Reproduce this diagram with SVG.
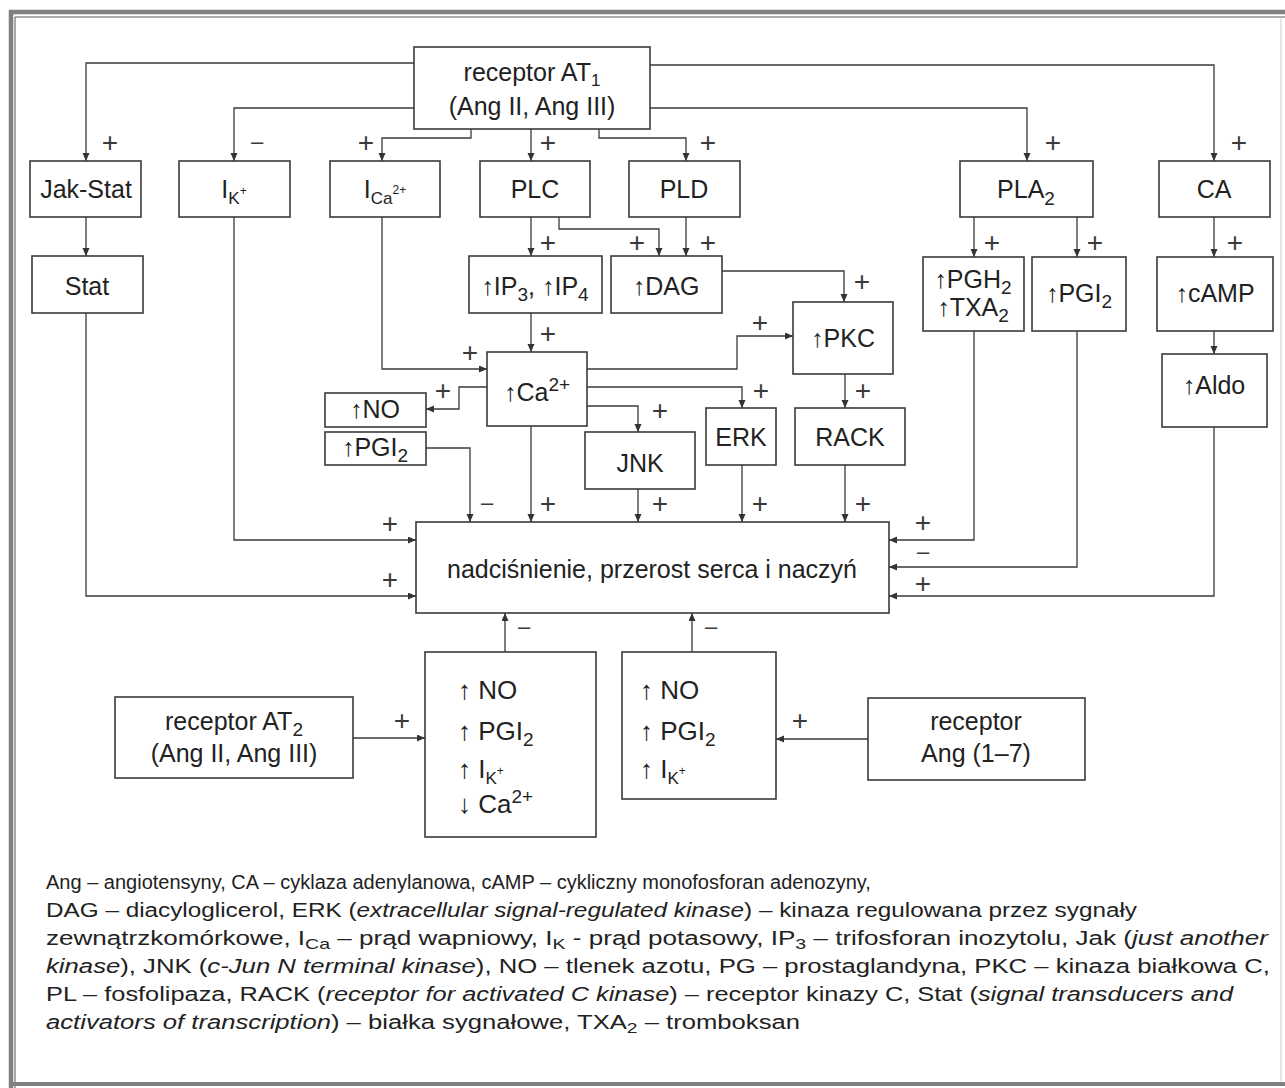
<svg xmlns="http://www.w3.org/2000/svg" width="1285" height="1088" viewBox="0 0 1285 1088">
<defs>
<marker id="ah" markerUnits="userSpaceOnUse" markerWidth="10" markerHeight="8" refX="8" refY="3.5" orient="auto">
<path d="M0,0 L8,3.5 L0,7 z" fill="#333"/>
</marker>
<style>
.bx{fill:#fff;stroke:#3a3a3a;stroke-width:1.6}
.t{font-family:"Liberation Sans",Arial,sans-serif;font-size:25px;fill:#222;text-anchor:middle}
.tl{font-family:"Liberation Sans",Arial,sans-serif;font-size:26px;fill:#222}
.s{font-family:"Liberation Sans",Arial,sans-serif;font-size:28px;fill:#3a3a3a;text-anchor:middle}
.m{font-family:"Liberation Sans",Arial,sans-serif;font-size:22px;fill:#3a3a3a;text-anchor:middle}
.lg{font-family:"Liberation Sans",Arial,sans-serif;font-size:20px;fill:#222}
.c path{fill:none;stroke:#3a3a3a;stroke-width:1.3;marker-end:url(#ah)}
</style>
</defs>
<rect width="1285" height="1088" fill="#fff"/>
<g id="frame" fill="none">
<path d="M11,1088 V12 H1285" stroke="#808080" stroke-width="4.5"/>
<path d="M15,1088 V17 H1285" stroke="#555" stroke-width="1"/>
<path d="M9,1084 H1285" stroke="#808080" stroke-width="4"/>
<path d="M1281,17 V1081" stroke="#ccc" stroke-width="1"/>
</g>

<g class="c" id="connectors">
<path d="M414,63 H86 V161"/>
<path d="M414,108 H234 V161"/>
<path d="M471,129 V138 H382 V161"/>
<path d="M531,129 V161"/>
<path d="M599,129 V138 H686 V161"/>
<path d="M650,108 H1027 V161"/>
<path d="M650,65 H1214 V161"/>
<path d="M86,217 V256"/>
<path d="M531,217 V256"/>
<path d="M559,217 V229 H659 V256"/>
<path d="M686,217 V256"/>
<path d="M974,217 V257"/>
<path d="M1077,217 V257"/>
<path d="M1214,217 V257"/>
<path d="M1214,331 V354"/>
<path d="M722,271 H844 V302"/>
<path d="M531,313 V352"/>
<path d="M382,217 V369 H487"/>
<path d="M587,369 H737 V336 H793"/>
<path d="M487,387 H459 V409 H426"/>
<path d="M587,387 H742 V408"/>
<path d="M587,406 H638 V432"/>
<path d="M845,374 V408"/>
<path d="M426,448 H470 V522"/>
<path d="M531,426 V522"/>
<path d="M638,489 V522"/>
<path d="M742,465 V522"/>
<path d="M845,465 V522"/>
<path d="M234,217 V540 H416"/>
<path d="M86,313 V596 H416"/>
<path d="M974,331 V540 H889"/>
<path d="M1077,331 V567 H889"/>
<path d="M1214,427 V596 H889"/>
<path d="M505,652 V613"/>
<path d="M692,652 V613"/>
<path d="M353,738 H425"/>
<path d="M868,739 H776"/>
</g>

<g id="signs">
<text class="s" x="110" y="152">+</text>
<text class="m" x="257" y="149">–</text>
<text class="s" x="366" y="152">+</text>
<text class="s" x="548" y="152">+</text>
<text class="s" x="708" y="152">+</text>
<text class="s" x="1053" y="152">+</text>
<text class="s" x="1239" y="152">+</text>
<text class="s" x="548" y="252">+</text>
<text class="s" x="637" y="252">+</text>
<text class="s" x="708" y="252">+</text>
<text class="s" x="992" y="252">+</text>
<text class="s" x="1095" y="252">+</text>
<text class="s" x="1235" y="252">+</text>
<text class="s" x="862" y="291">+</text>
<text class="s" x="760" y="332">+</text>
<text class="s" x="548" y="343">+</text>
<text class="s" x="470" y="362">+</text>
<text class="s" x="443" y="400">+</text>
<text class="s" x="761" y="400">+</text>
<text class="s" x="660" y="420">+</text>
<text class="s" x="863" y="400">+</text>
<text class="m" x="487" y="510">–</text>
<text class="s" x="548" y="513">+</text>
<text class="s" x="660" y="513">+</text>
<text class="s" x="760" y="513">+</text>
<text class="s" x="863" y="513">+</text>
<text class="s" x="390" y="533">+</text>
<text class="s" x="390" y="589">+</text>
<text class="s" x="923" y="532">+</text>
<text class="m" x="923" y="559">–</text>
<text class="s" x="923" y="593">+</text>
<text class="m" x="524" y="634">–</text>
<text class="m" x="711" y="634">–</text>
<text class="s" x="402" y="730">+</text>
<text class="s" x="800" y="730">+</text>
</g>

<g id="at1">
<rect class="bx" x="414" y="47" width="236" height="82"/>
<text class="t" x="532" y="81">receptor AT<tspan font-size="17" dy="5">1</tspan></text>
<text class="t" x="532" y="115">(Ang II, Ang III)</text>
</g>
<g id="jakstat">
<rect class="bx" x="30" y="161" width="111" height="56"/>
<text class="t" x="86" y="198">Jak-Stat</text>
</g>
<g id="ik">
<rect class="bx" x="179" y="161" width="111" height="56"/>
<text class="t" x="234" y="198">I<tspan font-size="17" dy="6">K</tspan><tspan font-size="12" dy="-9">+</tspan></text>
</g>
<g id="ica">
<rect class="bx" x="330" y="161" width="110" height="56"/>
<text class="t" x="385" y="198">I<tspan font-size="17" dy="6">Ca</tspan><tspan font-size="12" dy="-10">2+</tspan></text>
</g>
<g id="plc">
<rect class="bx" x="480" y="161" width="110" height="56"/>
<text class="t" x="535" y="198">PLC</text>
</g>
<g id="pld">
<rect class="bx" x="629" y="161" width="111" height="56"/>
<text class="t" x="684" y="198">PLD</text>
</g>
<g id="pla2">
<rect class="bx" x="960" y="161" width="133" height="56"/>
<text class="t" x="1026" y="198">PLA<tspan font-size="19" dy="7">2</tspan></text>
</g>
<g id="ca">
<rect class="bx" x="1159" y="161" width="111" height="56"/>
<text class="t" x="1214" y="198">CA</text>
</g>
<g id="stat">
<rect class="bx" x="32" y="256" width="111" height="57"/>
<text class="t" x="87" y="295">Stat</text>
</g>
<g id="ip3">
<rect class="bx" x="469" y="256" width="133" height="57"/>
<text class="t" x="535" y="295">↑IP<tspan font-size="19" dy="6">3</tspan><tspan dy="-6">, ↑IP</tspan><tspan font-size="19" dy="6">4</tspan></text>
</g>
<g id="dag">
<rect class="bx" x="611" y="256" width="111" height="57"/>
<text class="t" x="666" y="295">↑DAG</text>
</g>
<g id="pgh2">
<rect class="bx" x="923" y="257" width="101" height="74"/>
<text class="t" x="973" y="288">↑PGH<tspan font-size="19" dy="6">2</tspan></text>
<text class="t" x="973" y="316">↑TXA<tspan font-size="19" dy="6">2</tspan></text>
</g>
<g id="pgi2r">
<rect class="bx" x="1032" y="257" width="94" height="74"/>
<text class="t" x="1079" y="302">↑PGI<tspan font-size="19" dy="6">2</tspan></text>
</g>
<g id="camp">
<rect class="bx" x="1157" y="257" width="116" height="74"/>
<text class="t" x="1215" y="302">↑cAMP</text>
</g>
<g id="aldo">
<rect class="bx" x="1162" y="354" width="105" height="73"/>
<text class="t" x="1214" y="394">↑Aldo</text>
</g>
<g id="pkc">
<rect class="bx" x="793" y="302" width="100" height="72"/>
<text class="t" x="843" y="347">↑PKC</text>
</g>
<g id="ca2">
<rect class="bx" x="487" y="352" width="100" height="74"/>
<text class="t" x="537" y="401">↑Ca<tspan font-size="19" dy="-10">2+</tspan></text>
</g>
<g id="no">
<rect class="bx" x="325" y="393" width="101" height="34"/>
<text class="t" x="375" y="418">↑NO</text>
</g>
<g id="pgi2l">
<rect class="bx" x="325" y="432" width="101" height="33"/>
<text class="t" x="375" y="456">↑PGI<tspan font-size="19" dy="6">2</tspan></text>
</g>
<g id="jnk">
<rect class="bx" x="585" y="432" width="110" height="57"/>
<text class="t" x="640" y="472">JNK</text>
</g>
<g id="erk">
<rect class="bx" x="706" y="408" width="70" height="57"/>
<text class="t" x="741" y="446">ERK</text>
</g>
<g id="rack">
<rect class="bx" x="795" y="408" width="110" height="57"/>
<text class="t" x="850" y="446">RACK</text>
</g>
<g id="target">
<rect class="bx" x="416" y="522" width="473" height="91"/>
<text class="t" x="652" y="578">nadciśnienie, przerost serca i naczyń</text>
</g>
<g id="effl">
<rect class="bx" x="425" y="652" width="171" height="185"/>
<text class="tl" x="458" y="699">↑ NO</text>
<text class="tl" x="458" y="740">↑ PGI<tspan font-size="19" dy="6">2</tspan></text>
<text class="tl" x="458" y="778">↑ I<tspan font-size="17" dy="6">K</tspan><tspan font-size="12" dy="-9">+</tspan></text>
<text class="tl" x="458" y="813">↓ Ca<tspan font-size="19" dy="-10">2+</tspan></text>
</g>
<g id="effr">
<rect class="bx" x="622" y="652" width="154" height="147"/>
<text class="tl" x="640" y="699">↑ NO</text>
<text class="tl" x="640" y="740">↑ PGI<tspan font-size="19" dy="6">2</tspan></text>
<text class="tl" x="640" y="778">↑ I<tspan font-size="17" dy="6">K</tspan><tspan font-size="12" dy="-9">+</tspan></text>
</g>
<g id="at2">
<rect class="bx" x="115" y="697" width="238" height="81"/>
<text class="t" x="234" y="730">receptor AT<tspan font-size="19" dy="6">2</tspan></text>
<text class="t" x="234" y="762">(Ang II, Ang III)</text>
</g>
<g id="ang17">
<rect class="bx" x="868" y="698" width="217" height="82"/>
<text class="t" x="976" y="730">receptor</text>
<text class="t" x="976" y="762">Ang (1–7)</text>
</g>

<g id="legend" class="lg">
<text x="46" y="889">Ang – angiotensyny, CA – cyklaza adenylanowa, cAMP – cykliczny monofosforan adenozyny,</text>
<text x="46" y="917" textLength="1091" lengthAdjust="spacingAndGlyphs">DAG – diacyloglicerol, ERK (<tspan font-style="italic">extracellular signal-regulated kinase</tspan>) – kinaza regulowana przez sygnały</text>
<text x="46" y="945" textLength="1222" lengthAdjust="spacingAndGlyphs">zewnątrzkomórkowe, I<tspan font-size="15" dy="4">Ca</tspan><tspan dy="-4"> – prąd wapniowy, I</tspan><tspan font-size="15" dy="4">K</tspan><tspan dy="-4"> - prąd potasowy, IP</tspan><tspan font-size="15" dy="4">3</tspan><tspan dy="-4"> – trifosforan inozytolu, Jak (</tspan><tspan font-style="italic">just another</tspan></text>
<text x="46" y="973" textLength="1224" lengthAdjust="spacingAndGlyphs"><tspan font-style="italic">kinase</tspan>), JNK (<tspan font-style="italic">c-Jun N terminal kinase</tspan>), NO – tlenek azotu, PG – prostaglandyna, PKC – kinaza białkowa C,</text>
<text x="46" y="1001" textLength="1187" lengthAdjust="spacingAndGlyphs">PL – fosfolipaza, RACK (<tspan font-style="italic">receptor for activated C kinase</tspan>) – receptor kinazy C, Stat (<tspan font-style="italic">signal transducers and</tspan></text>
<text x="46" y="1029" textLength="754" lengthAdjust="spacingAndGlyphs"><tspan font-style="italic">activators of transcription</tspan>) – białka sygnałowe, TXA<tspan font-size="15" dy="4">2</tspan><tspan dy="-4"> – tromboksan</tspan></text>
</g>
</svg>
